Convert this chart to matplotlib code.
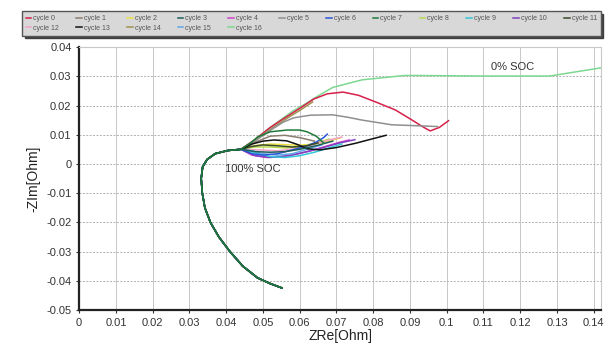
import numpy as np
import matplotlib.pyplot as plt

plt.rcParams['font.family'] = ['Liberation Sans', 'DejaVu Sans']

# shared inductive tail, from the low end up to the knot at ~(0.044, 0.005)
tail_x = [0.0552, 0.0520, 0.0485, 0.0445, 0.0410, 0.0380, 0.0357, 0.0342, 0.0335, 0.0332, 0.0336, 0.0348, 0.0370, 0.0405, 0.0440]
tail_y = [-0.0425, -0.0410, -0.0390, -0.0350, -0.0300, -0.0250, -0.0200, -0.0150, -0.0100, -0.0050, -0.0010, 0.0015, 0.0035, 0.0046, 0.0050]

cycles = ['cycle %d' % i for i in range(17)]
colors = ['#d6204a', '#8a7f6e', '#e8e040', '#1d5e5a', '#d040c8', '#8f8f8f', '#2a55d8',
          '#1f7a3a', '#b8d84a', '#30c8d8', '#8040c0', '#3a4a2a', '#f0a0c8', '#111111',
          '#a09050', '#60a8e8', '#7cd890']

arc_x = [
    [0.044, 0.048, 0.052, 0.056, 0.060, 0.0638, 0.0675, 0.0718, 0.076, 0.0807, 0.086, 0.0906, 0.0935, 0.0955, 0.098, 0.1005],
    [0.044, 0.048, 0.052, 0.056, 0.060, 0.064],
    [0.044, 0.048, 0.052, 0.056, 0.060, 0.064, 0.068, 0.071],
    [0.044, 0.048, 0.052, 0.056, 0.060, 0.065, 0.069],
    [0.044, 0.047, 0.051, 0.055, 0.059, 0.063, 0.067, 0.0705, 0.0735],
    [0.044, 0.048, 0.052, 0.0555, 0.0584, 0.063, 0.069, 0.073, 0.077, 0.085, 0.0935, 0.0975],
    [0.044, 0.047, 0.050, 0.054, 0.058, 0.062, 0.0645, 0.0665, 0.0675],
    [0.044, 0.047, 0.0485, 0.052, 0.0566, 0.060, 0.062, 0.0645, 0.0665],
    [0.044, 0.048, 0.052, 0.056, 0.060, 0.064, 0.068],
    [0.044, 0.048, 0.052, 0.056, 0.060, 0.064, 0.068, 0.0715],
    [0.044, 0.048, 0.052, 0.057, 0.062, 0.067, 0.071, 0.075],
    [0.044, 0.047, 0.050, 0.054, 0.058, 0.062, 0.065],
    [0.044, 0.049, 0.054, 0.059, 0.064, 0.068, 0.0715],
    [0.044, 0.047, 0.050, 0.053, 0.0565, 0.0595, 0.062, 0.0655, 0.070, 0.0753, 0.0795, 0.0835],
    [0.044, 0.048, 0.052, 0.056, 0.060, 0.0635],
    [0.044, 0.047, 0.050, 0.054, 0.058, 0.062, 0.066],
    [0.044, 0.0475, 0.0515, 0.0547, 0.058, 0.062, 0.0646, 0.069, 0.077, 0.0887, 0.100, 0.110, 0.120, 0.128, 0.135, 0.142],
]
arc_y = [
    [0.005, 0.0085, 0.0125, 0.0158, 0.019, 0.0222, 0.024, 0.0246, 0.0235, 0.0212, 0.0185, 0.015, 0.0127, 0.0113, 0.0125, 0.0148],
    [0.005, 0.0075, 0.0095, 0.0098, 0.009, 0.0078],
    [0.005, 0.0063, 0.0068, 0.0066, 0.0064, 0.0068, 0.0078, 0.0089],
    [0.005, 0.0042, 0.0040, 0.0042, 0.0050, 0.0064, 0.0078],
    [0.005, 0.0030, 0.0022, 0.0025, 0.0033, 0.0045, 0.0060, 0.0073, 0.0082],
    [0.005, 0.0080, 0.0115, 0.0143, 0.0158, 0.0167, 0.0168, 0.0160, 0.0150, 0.0134, 0.0130, 0.0128],
    [0.005, 0.0035, 0.0030, 0.0035, 0.0048, 0.0062, 0.0075, 0.0090, 0.0102],
    [0.005, 0.0075, 0.0092, 0.0110, 0.0116, 0.0116, 0.0110, 0.0095, 0.0072],
    [0.005, 0.0058, 0.0058, 0.0055, 0.0058, 0.0070, 0.0085],
    [0.005, 0.0038, 0.0025, 0.0022, 0.0028, 0.0040, 0.0055, 0.0068],
    [0.005, 0.0028, 0.0022, 0.0028, 0.0042, 0.0058, 0.0072, 0.0083],
    [0.005, 0.0060, 0.0065, 0.0062, 0.0058, 0.0062, 0.0072],
    [0.005, 0.0048, 0.0045, 0.0052, 0.0068, 0.0082, 0.0092],
    [0.005, 0.0068, 0.0078, 0.0082, 0.0079, 0.0066, 0.0052, 0.0048, 0.0056, 0.0071, 0.0085, 0.0098],
    [0.005, 0.0082, 0.0118, 0.0152, 0.0183, 0.0212],
    [0.005, 0.0045, 0.0035, 0.0030, 0.0035, 0.0050, 0.0065],
    [0.005, 0.0080, 0.0120, 0.0150, 0.0180, 0.0209, 0.0230, 0.0262, 0.0288, 0.0303, 0.0302, 0.0301, 0.0301, 0.0301, 0.0315, 0.0329],
]

fig = plt.figure(figsize=(6.09, 3.49), dpi=100)
ax = fig.add_axes([0.13, 0.112, 0.857, 0.753])

# draw order: arcs first, teal tail on top like the reference
order = [16, 0, 14, 5, 1, 2, 8, 12, 4, 10, 9, 15, 6, 11, 13, 3, 7]
handles = {}
for i in order:
    xs = tail_x + arc_x[i][1:]
    ys = tail_y + arc_y[i][1:]
    ln, = ax.plot(xs, ys, color=colors[i], lw=1.1, label=cycles[i])
    handles[i] = ln

ax.set_xlim(0, 0.142)
ax.set_ylim(-0.05, 0.04)
ax.set_xticks(np.arange(0, 0.1401, 0.01))
ax.set_yticks(np.arange(-0.05, 0.0401, 0.01))
ax.set_xticklabels(['0'] + ['%g' % round(v, 2) for v in np.arange(0.01, 0.1401, 0.01)])
ax.set_yticklabels(['%g' % round(v, 2) for v in np.arange(-0.05, 0.0401, 0.01)])
ax.tick_params(labelsize=8, colors='#333333', length=2)
ax.grid(axis='x', color='#c8c8c8', lw=0.7)
ax.grid(axis='y', color='#b0b0b0', lw=0.7, ls=(0, (2, 1.5)))
ax.set_axisbelow(True)
for s in ['top', 'right']:
    ax.spines[s].set_color('#c8c8c8')
for s in ['left', 'bottom']:
    ax.spines[s].set_linewidth(1.6)
    ax.spines[s].set_color('#222222')

ax.set_xlabel('ZRe[Ohm]', fontsize=10, labelpad=1, color='#222222')
ax.set_ylabel('-ZIm[Ohm]', fontsize=10, labelpad=4, color='#222222')

ax.text(0.0472, -0.0017, '100% SOC', fontsize=8, ha='center', va='center', color='#333333')
ax.text(0.118, 0.0332, '0% SOC', fontsize=8, ha='center', va='center', color='#333333')

# legend: row-major layout in 12 columns
leg_order = [0, 12, 1, 13, 2, 14, 3, 15, 4, 16, 5, 6, 7, 8, 9, 10, 11]
leg = fig.legend([handles[i] for i in leg_order], [cycles[i] for i in leg_order],
                 ncol=12, loc='upper left', bbox_to_anchor=(0.03, 0.905, 0.962, 0.072),
                 mode='expand', fontsize=5.0, handlelength=0.8, handletextpad=0.3,
                 columnspacing=0.4, labelspacing=0.35, borderpad=0.55,
                 frameon=True, fancybox=False, shadow={'color': '#333333', 'alpha': 0.9})
leg.get_frame().set_facecolor('#d8d8d8')
leg.get_frame().set_edgecolor('#555555')
for t in leg.get_texts():
    t.set_color('#555555')

fig.savefig('out.png', dpi=100)
